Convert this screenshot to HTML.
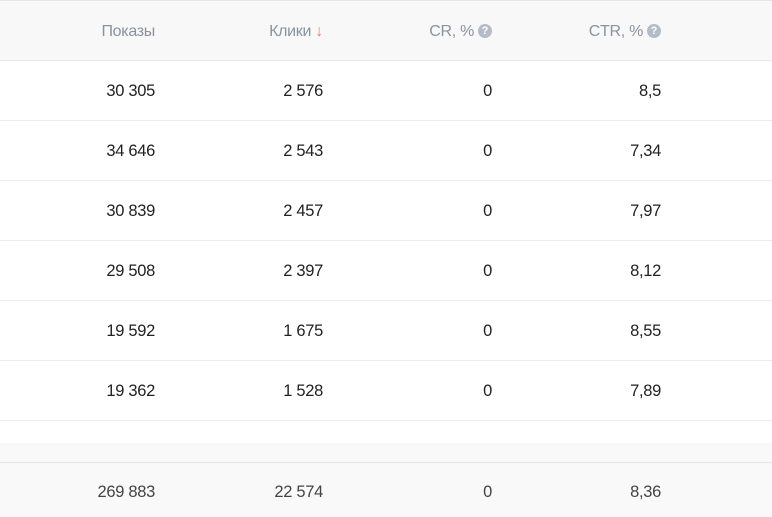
<!DOCTYPE html>
<html><head><meta charset="utf-8"><style>
body{margin:0;width:772px;height:517px;background:#fff;font-family:"Liberation Sans","DejaVu Sans",sans-serif;position:relative;overflow:hidden}
.band{position:absolute;left:0;width:772px}
.t{position:absolute;font-size:16.5px;color:#222;line-height:20px;text-align:right;white-space:nowrap;letter-spacing:-0.3px}
.h{color:#8a939e;font-size:16px}
.q{display:inline-block;width:14px;height:14px;border-radius:50%;background:#b5bcc6;color:#fff;font-size:11px;line-height:14px;text-align:center;font-weight:bold;vertical-align:2px;margin-left:4px;letter-spacing:0}
</style></head><body>
<div class="band" style="top:0;height:60px;background:#f8f8f8;border-top:1px solid #e6e6e6;box-sizing:border-box"></div>
<div class="band" style="top:60px;height:1px;background:#e8e8e8"></div>
<div class="band" style="top:120px;height:1px;background:#ececec"></div>
<div class="band" style="top:180px;height:1px;background:#ececec"></div>
<div class="band" style="top:240px;height:1px;background:#ececec"></div>
<div class="band" style="top:300px;height:1px;background:#ececec"></div>
<div class="band" style="top:360px;height:1px;background:#ececec"></div>
<div class="band" style="top:420px;height:1px;background:#ececec"></div>
<div class="band" style="top:443px;height:74px;background:#f9f9f9"></div>
<div class="band" style="top:462px;height:1px;background:#e4e4e4"></div>

<div class="t h" style="right:617px;top:22px">Показы</div>
<div class="t h" style="right:449px;top:22px">Клики <span style="color:#e08a7a">↓</span></div>
<div class="t h" style="right:280px;top:22px">CR, %<span class="q">?</span></div>
<div class="t h" style="right:111px;top:22px">CTR, %<span class="q">?</span></div>

<div class="t" style="right:617px;top:81px">30 305</div><div class="t" style="right:449px;top:81px">2 576</div><div class="t" style="right:280px;top:81px">0</div><div class="t" style="right:111px;top:81px">8,5</div>
<div class="t" style="right:617px;top:141px">34 646</div><div class="t" style="right:449px;top:141px">2 543</div><div class="t" style="right:280px;top:141px">0</div><div class="t" style="right:111px;top:141px">7,34</div>
<div class="t" style="right:617px;top:201px">30 839</div><div class="t" style="right:449px;top:201px">2 457</div><div class="t" style="right:280px;top:201px">0</div><div class="t" style="right:111px;top:201px">7,97</div>
<div class="t" style="right:617px;top:261px">29 508</div><div class="t" style="right:449px;top:261px">2 397</div><div class="t" style="right:280px;top:261px">0</div><div class="t" style="right:111px;top:261px">8,12</div>
<div class="t" style="right:617px;top:321px">19 592</div><div class="t" style="right:449px;top:321px">1 675</div><div class="t" style="right:280px;top:321px">0</div><div class="t" style="right:111px;top:321px">8,55</div>
<div class="t" style="right:617px;top:381px">19 362</div><div class="t" style="right:449px;top:381px">1 528</div><div class="t" style="right:280px;top:381px">0</div><div class="t" style="right:111px;top:381px">7,89</div>

<div class="t" style="right:617px;top:482px;color:#444">269 883</div><div class="t" style="right:449px;top:482px;color:#444">22 574</div><div class="t" style="right:280px;top:482px;color:#444">0</div><div class="t" style="right:111px;top:482px;color:#444">8,36</div>
</body></html>
